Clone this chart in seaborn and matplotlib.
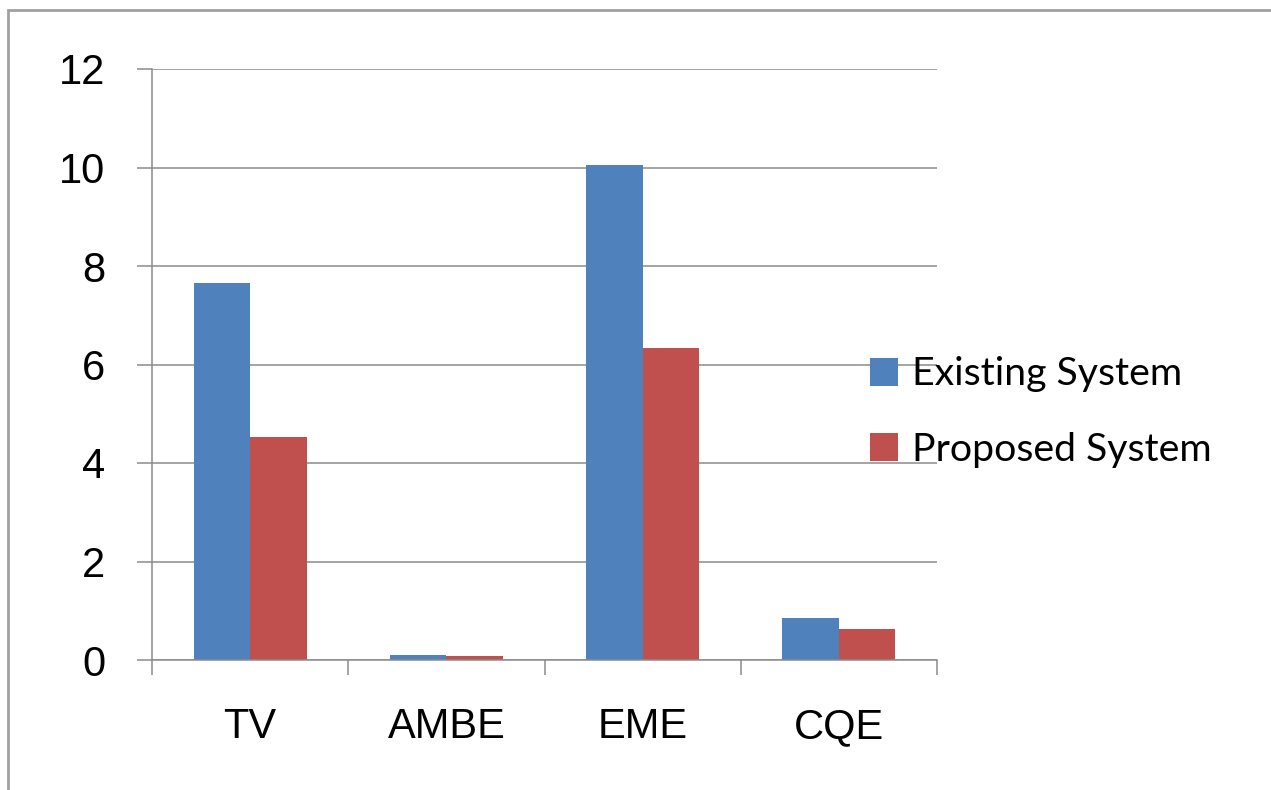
import numpy as np
import pandas as pd
import seaborn as sns
import matplotlib.pyplot as plt
from matplotlib.patches import Rectangle

# values
categories = ['TV', 'AMBE', 'EME', 'CQE']
existing = [7.65, 0.1, 10.05, 0.85]
proposed = [4.53, 0.08, 6.33, 0.63]
series = ['Existing System', 'Proposed System']
y_ticks = [0, 2, 4, 6, 8, 10, 12]

df = pd.DataFrame({
    'metric': categories * 2,
    'value': existing + proposed,
    'system': [series[0]] * 4 + [series[1]] * 4,
})

sns.set_style('white')
plt.rcParams['font.family'] = ['Liberation Sans', 'DejaVu Sans']

grey = '#8c8c8c'
fig = plt.figure(figsize=(12.71, 7.90), dpi=100)
ax = fig.add_axes([152 / 1271, 1 - 660 / 790, (937 - 152) / 1271, (660 - 69) / 790])

sns.barplot(data=df, x='metric', y='value', hue='system', order=categories,
            hue_order=series, palette=['#4f81bd', '#c0504d'], width=0.575,
            gap=0, saturation=1, linewidth=0, ax=ax, legend=True)

ax.set_ylim(0, 12)
ax.set_xlim(-0.5, 3.5)
ax.set_yticks(y_ticks)
ax.set_yticklabels([str(t) for t in y_ticks])
ax.yaxis.grid(True, color=grey, linewidth=1.1)
ax.set_axisbelow(True)

# boundary ticks (major) and centred labels (minor)
ax.set_xticks(np.arange(-0.5, 4, 1))
ax.set_xticklabels([])
ax.set_xticks(range(len(categories)), minor=True)
ax.set_xticklabels(categories, minor=True)
ax.tick_params(axis='x', which='major', bottom=True, length=10.8, width=1.1,
               color=grey, direction='out')
ax.tick_params(axis='x', which='minor', bottom=True, length=0, pad=34,
               labelsize=30, labelcolor='black')
ax.tick_params(axis='y', left=True, length=10.8, width=1.1, color=grey,
               direction='out', pad=23, labelsize=30, labelcolor='black')
ax.set_xlabel('')
ax.set_ylabel('')

for s in ['top', 'right']:
    ax.spines[s].set_visible(False)
for s in ['left', 'bottom']:
    ax.spines[s].set_color(grey)
    ax.spines[s].set_linewidth(1.1)

handles, labels = ax.get_legend_handles_labels()
ax.get_legend().remove()
fig.legend(handles, labels, loc='center left', bbox_to_anchor=(870 / 1271, 1 - 412 / 790),
           frameon=False, borderpad=0, borderaxespad=0, handlelength=0.72,
           handleheight=0.72, handletextpad=0.36, labelspacing=1.0,
           prop={'family': 'Lato', 'size': 28.3}, labelcolor='black')

# outer chart-area frame
fig.add_artist(Rectangle((8 / 1271, -0.1), 1.2, 1 - 10 / 790 + 0.1,
                         transform=fig.transFigure, fill=False,
                         edgecolor='#a0a0a0', linewidth=2))

fig.savefig('out.png', dpi=100)
